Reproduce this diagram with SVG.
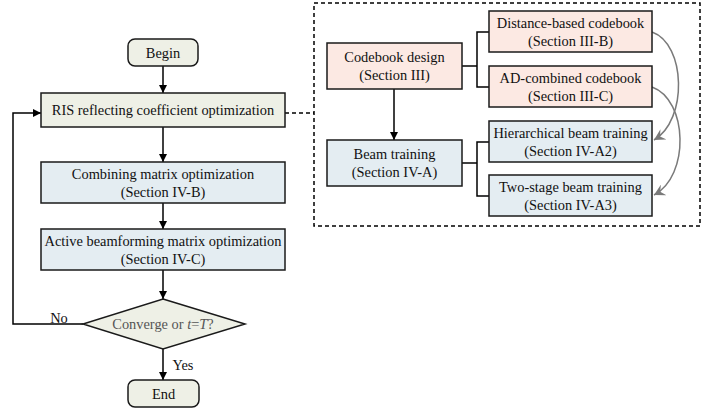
<svg xmlns="http://www.w3.org/2000/svg" width="709" height="415" viewBox="0 0 709 415">
<defs>
<marker id="ah" viewBox="0 0 10 10" refX="10" refY="5" markerWidth="8" markerHeight="8" markerUnits="userSpaceOnUse" orient="auto">
<path d="M0,0 L10,5 L0,10 Z" fill="#000"/>
</marker>
<marker id="gh" viewBox="0 0 12 12" refX="11" refY="6" markerWidth="12" markerHeight="12" markerUnits="userSpaceOnUse" orient="auto">
<path d="M0,0 L11,6 L0,12 L4,6 Z" fill="#7a7a7a"/>
</marker>
<style>
text{font-family:"Liberation Serif","Times New Roman",serif;font-size:14.4px;fill:#111;text-anchor:middle;dominant-baseline:central}
.g{fill:#eef0e6;stroke:#1a1a1a;stroke-width:1.5}
.b{fill:#e4edf2;stroke:#1a1a1a;stroke-width:1.5}
.p{fill:#fce9e3;stroke:#1a1a1a;stroke-width:1.5}
.ln{fill:none;stroke:#000;stroke-width:1.5}
.gc{fill:none;stroke:#7a7a7a;stroke-width:1.5}
.ds{fill:none;stroke:#000;stroke-width:1.5;stroke-dasharray:4 3}
</style>
</defs>
<g id="connectors">
<line class="ln" x1="163" y1="66" x2="163" y2="93" marker-end="url(#ah)"/>
<line class="ln" x1="163" y1="127" x2="163" y2="162" marker-end="url(#ah)"/>
<line class="ln" x1="163" y1="203" x2="163" y2="229" marker-end="url(#ah)"/>
<line class="ln" x1="163" y1="270" x2="163" y2="299" marker-end="url(#ah)"/>
<line class="ln" x1="163" y1="349" x2="163" y2="380" marker-end="url(#ah)"/>
<polyline class="ln" points="83,324 13,324 13,113 41,113" marker-end="url(#ah)"/>
<line class="ds" x1="285" y1="113" x2="314" y2="113"/>
<rect class="ds" x="314" y="3" width="386" height="223"/>
<polyline class="ln" points="462,66 477,66"/>
<polyline class="ln" points="489,32 477,32 477,87 489,87"/>
<polyline class="ln" points="462,163 477,163"/>
<polyline class="ln" points="489,142 477,142 477,196 489,196"/>
<line class="ln" x1="394" y1="89" x2="394" y2="140" marker-end="url(#ah)"/>
<path class="gc" d="M652,32 C686,44 688,120 654,140" marker-end="url(#gh)"/>
<path class="gc" d="M652,87 C688,100 690,176 654,195" marker-end="url(#gh)"/>
<text x="59" y="318">No</text>
<text x="183" y="365">Yes</text>
</g>
<g id="begin"><rect class="g" x="128" y="39" width="70" height="27" rx="7"/><text x="163" y="52.5">Begin</text></g>
<g id="ris"><rect class="g" x="41" y="93" width="244" height="34"/><text x="163" y="110">RIS reflecting coefficient optimization</text></g>
<g id="combining"><rect class="b" x="41" y="162" width="244" height="41"/><text x="163" y="174">Combining matrix optimization</text><text x="163" y="192">(Section IV-B)</text></g>
<g id="active"><rect class="b" x="41" y="229" width="244" height="41"/><text x="163" y="241">Active beamforming matrix optimization</text><text x="163" y="259">(Section IV-C)</text></g>
<g id="decision"><polygon class="g" points="163,299 245,324 163,349 83,324"/><text x="163" y="324" style="fill:#555">Converge or <tspan font-style="italic">t</tspan>=<tspan font-style="italic">T</tspan>?</text></g>
<g id="end"><rect class="g" x="128" y="380" width="71" height="27" rx="7"/><text x="163.5" y="393.5">End</text></g>
<g id="codebook"><rect class="p" x="327" y="43" width="135" height="46"/><text x="394.5" y="57">Codebook design</text><text x="394.5" y="75">(Section III)</text></g>
<g id="beam"><rect class="b" x="327" y="140" width="135" height="46"/><text x="394.5" y="154">Beam training</text><text x="394.5" y="172">(Section IV-A)</text></g>
<g id="distance"><rect class="p" x="489" y="11" width="163" height="41"/><text x="570.5" y="23">Distance-based codebook</text><text x="570.5" y="41">(Section III-B)</text></g>
<g id="adcombined"><rect class="p" x="489" y="66" width="163" height="41"/><text x="570.5" y="78">AD-combined codebook</text><text x="570.5" y="96">(Section III-C)</text></g>
<g id="hierarchical"><rect class="b" x="489" y="121" width="163" height="41"/><text x="570.5" y="133">Hierarchical beam training</text><text x="570.5" y="151">(Section IV-A2)</text></g>
<g id="twostage"><rect class="b" x="489" y="175" width="163" height="41"/><text x="570.5" y="187">Two-stage beam training</text><text x="570.5" y="205">(Section IV-A3)</text></g>
</svg>
